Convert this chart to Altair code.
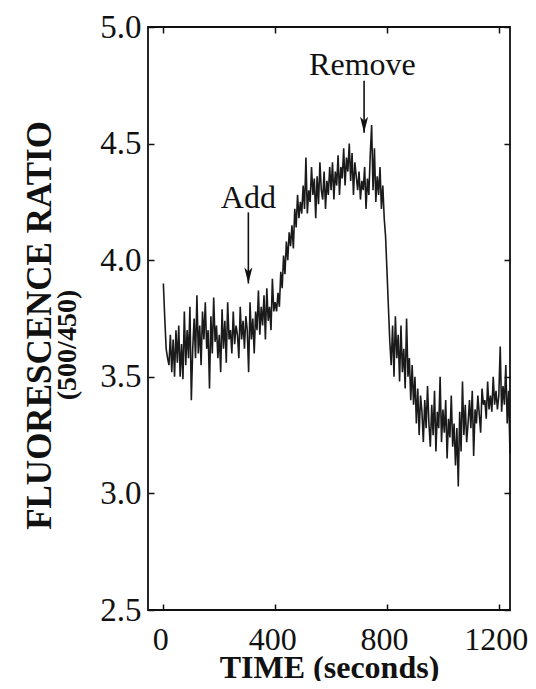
import altair as alt
import pandas as pd

# ---- data ----
time_s = [i * 5 for i in range(249)]  # 0 .. 1240 s
ratio = [
    3.90, 3.75, 3.62, 3.58, 3.55, 3.68, 3.52, 3.66, 3.50, 3.70,
    3.56, 3.72, 3.50, 3.64, 3.49, 3.78, 3.55, 3.70, 3.58, 3.80,
    3.40, 3.62, 3.75, 3.58, 3.85, 3.60, 3.72, 3.55, 3.78, 3.66,
    3.82, 3.62, 3.70, 3.45, 3.76, 3.60, 3.84, 3.65, 3.72, 3.58,
    3.68, 3.52, 3.79, 3.62, 3.74, 3.56, 3.82, 3.66, 3.70, 3.60,
    3.78, 3.64, 3.72, 3.68, 3.58, 3.80, 3.66, 3.74, 3.62, 3.76,
    3.70, 3.52, 3.82, 3.66, 3.75, 3.60, 3.78, 3.70, 3.87, 3.68,
    3.80, 3.72, 3.85, 3.66, 3.88, 3.74, 3.80, 3.70, 3.92, 3.78,
    3.82, 3.78, 3.86, 3.80, 3.95, 3.88, 4.02, 3.94, 4.08, 4.00,
    4.12, 4.06, 4.15, 4.05, 4.22, 4.14, 4.28, 4.18, 4.25, 4.20,
    4.32, 4.22, 4.44, 4.20, 4.30, 4.25, 4.40, 4.28, 4.35, 4.18,
    4.36, 4.24, 4.42, 4.30, 4.26, 4.38, 4.22, 4.34, 4.28, 4.40,
    4.30, 4.42, 4.26, 4.38, 4.32, 4.45, 4.28, 4.40, 4.35, 4.48,
    4.32, 4.44, 4.38, 4.50, 4.34, 4.46, 4.28, 4.42, 4.36, 4.30,
    4.38, 4.26, 4.34, 4.30, 4.40, 4.22, 4.35, 4.28, 4.45, 4.58,
    4.30, 4.48, 4.25, 4.36, 4.28, 4.40, 4.22, 4.32, 4.18, 4.10,
    3.95, 3.80, 3.65, 3.55, 3.72, 3.50, 3.76, 3.58, 3.68, 3.48,
    3.72, 3.52, 3.62, 3.45, 3.75, 3.50, 3.58, 3.40, 3.55, 3.38,
    3.50, 3.30, 3.45, 3.25, 3.42, 3.35, 3.22, 3.40, 3.28, 3.46,
    3.30, 3.20, 3.38, 3.25, 3.44, 3.18, 3.35, 3.28, 3.50, 3.22,
    3.36, 3.26, 3.40, 3.15, 3.32, 3.24, 3.42, 3.20, 3.30, 3.12,
    3.28, 3.03, 3.35, 3.18, 3.48, 3.25, 3.38, 3.22, 3.30, 3.40,
    3.28, 3.44, 3.16, 3.36, 3.30, 3.42, 3.34, 3.26, 3.45, 3.38,
    3.40, 3.32, 3.48, 3.36, 3.42, 3.35, 3.50, 3.38, 3.44, 3.36,
    3.42, 3.63, 3.35, 3.46, 3.38, 3.55, 3.30, 3.44, 3.17,
]

x_ticks = [0, 400, 800, 1200]
y_ticks = [2.5, 3.0, 3.5, 4.0, 4.5, 5.0]

ann_labels = ["Add", "Remove"]
ann_text_t = [304, 712]
ann_text_v = [4.224, 4.794]
ann_arrow_t = [304, 718]
ann_arrow_top = [4.205, 4.770]
ann_arrow_tip = [3.900, 4.546]

trace = pd.DataFrame({"t": time_s, "v": ratio})
ann = pd.DataFrame({
    "label": ann_labels, "tt": ann_text_t, "tv": ann_text_v,
    "at": ann_arrow_t, "top": ann_arrow_top, "tip": ann_arrow_tip,
})
sub = pd.DataFrame({"s": ["(500/450)"]})

FONT = "Liberation Serif"
INK = "#111"
xscale = alt.Scale(domain=[-55, 1240], nice=False, zero=False)
yscale = alt.Scale(domain=[2.5, 5.0], nice=False, zero=False)

bottom_axis = alt.Axis(
    values=x_ticks, format="d", title="TIME (seconds)", domain=False, grid=False,
    offset=-6, tickSize=6, tickWidth=1.5, tickColor=INK,
    labelPadding=14, labelFontSize=32, labelFont=FONT, labelColor=INK, labelOffset=-3,
    titleFont=FONT, titleFontSize=32, titleFontWeight="bold", titleColor=INK,
    titleBaseline="alphabetic", titleY=73,
)
left_axis = alt.Axis(
    values=y_ticks, format=".1f", title="FLUORESCENCE RATIO", domain=False, grid=False,
    offset=-6, tickSize=6, tickWidth=1.5, tickColor=INK,
    labelPadding=7, labelFontSize=33, labelFont=FONT, labelColor=INK,
    titleFont=FONT, titleFontSize=35, titleFontWeight="bold", titleColor=INK,
    titleAngle=270, titleBaseline="alphabetic", titleX=-104, titleY=298,
)
top_axis = alt.Axis(
    values=x_ticks, orient="top", title=None, labels=False, domain=False, grid=False,
    offset=-6, tickSize=6, tickWidth=1.5, tickColor=INK,
)
right_axis = alt.Axis(
    values=y_ticks, orient="right", title=None, labels=False, domain=False, grid=False,
    offset=-6, tickSize=6, tickWidth=1.5, tickColor=INK,
)

line = alt.Chart(trace).mark_line(color="#1a1a1a", strokeWidth=1.6).encode(
    x=alt.X("t:Q", scale=xscale, axis=bottom_axis),
    y=alt.Y("v:Q", scale=yscale, axis=left_axis),
)
mirror = alt.Chart(trace).mark_line(strokeOpacity=0).encode(
    x=alt.X("t:Q", scale=xscale, axis=top_axis),
    y=alt.Y("v:Q", scale=yscale, axis=right_axis),
)
frame = alt.Chart(sub).mark_rect(fill=None, fillOpacity=0, stroke=INK, strokeWidth=1.8).encode(
    x=alt.value(0), x2=alt.value(362), y=alt.value(0), y2=alt.value(583),
)
texts = alt.Chart(ann).mark_text(
    font=FONT, fontSize=32, color=INK, baseline="alphabetic", align="center"
).encode(
    x=alt.X("tt:Q", scale=xscale, axis=None),
    y=alt.Y("tv:Q", scale=yscale, axis=None),
    text="label:N",
)
shafts = alt.Chart(ann).mark_rule(color=INK, strokeWidth=1.6).encode(
    x=alt.X("at:Q", scale=xscale, axis=None),
    y=alt.Y("top:Q", scale=yscale, axis=None),
    y2="tip:Q",
)
heads = alt.Chart(ann).mark_point(
    shape="M -0.5 -1 L 0 1 L 0.5 -1 L 0 -0.5 Z", size=256,
    filled=True, color=INK, opacity=1, yOffset=-8,
).encode(
    x=alt.X("at:Q", scale=xscale, axis=None),
    y=alt.Y("tip:Q", scale=yscale, axis=None),
)
subtitle = alt.Chart(sub).mark_text(
    font=FONT, fontSize=28, fontWeight="bold", color=INK,
    angle=270, align="center", baseline="alphabetic",
).encode(
    x=alt.value(-72), y=alt.value(318), text="s:N",
)

chart = alt.layer(line, mirror, frame, shafts, heads, texts, subtitle).resolve_axis(
    x="independent", y="independent"
).properties(
    width=362, height=583,
    autosize=alt.AutoSizeParams(type="none"),
    padding={"left": 140, "top": 19, "right": 18, "bottom": 71},
).configure_view(
    stroke=None
).configure(background="white")

chart.save("out.html", embed_options={"renderer": "svg", "actions": False})
